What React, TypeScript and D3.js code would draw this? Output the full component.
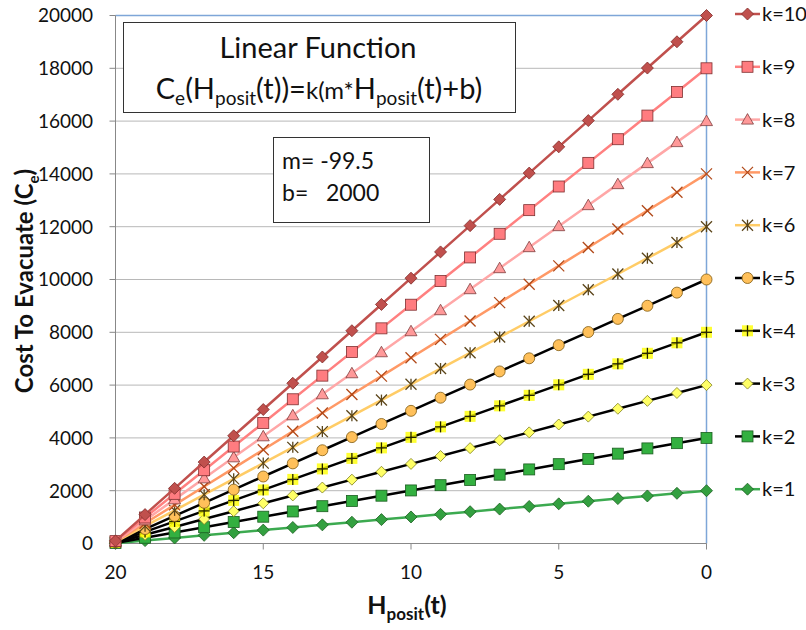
import React from "react";
import * as d3 from "d3";

const xValues = [20, 19, 18, 17, 16, 15, 14, 13, 12, 11, 10, 9, 8, 7, 6, 5, 4, 3, 2, 1, 0];
const k1 = [10, 109.5, 209, 308.5, 408, 507.5, 607, 706.5, 806, 905.5, 1005, 1104.5, 1204, 1303.5, 1403, 1502.5, 1602, 1701.5, 1801, 1900.5, 2000];
const k2 = [20, 219, 418, 617, 816, 1015, 1214, 1413, 1612, 1811, 2010, 2209, 2408, 2607, 2806, 3005, 3204, 3403, 3602, 3801, 4000];
const k3 = [30, 328.5, 627, 925.5, 1224, 1522.5, 1821, 2119.5, 2418, 2716.5, 3015, 3313.5, 3612, 3910.5, 4209, 4507.5, 4806, 5104.5, 5403, 5701.5, 6000];
const k4 = [40, 438, 836, 1234, 1632, 2030, 2428, 2826, 3224, 3622, 4020, 4418, 4816, 5214, 5612, 6010, 6408, 6806, 7204, 7602, 8000];
const k5 = [50, 547.5, 1045, 1542.5, 2040, 2537.5, 3035, 3532.5, 4030, 4527.5, 5025, 5522.5, 6020, 6517.5, 7015, 7512.5, 8010, 8507.5, 9005, 9502.5, 10000];
const k6 = [60, 657, 1254, 1851, 2448, 3045, 3642, 4239, 4836, 5433, 6030, 6627, 7224, 7821, 8418, 9015, 9612, 10209, 10806, 11403, 12000];
const k7 = [70, 766.5, 1463, 2159.5, 2856, 3552.5, 4249, 4945.5, 5642, 6338.5, 7035, 7731.5, 8428, 9124.5, 9821, 10517.5, 11214, 11910.5, 12607, 13303.5, 14000];
const k8 = [80, 876, 1672, 2468, 3264, 4060, 4856, 5652, 6448, 7244, 8040, 8836, 9632, 10428, 11224, 12020, 12816, 13612, 14408, 15204, 16000];
const k9 = [90, 985.5, 1881, 2776.5, 3672, 4567.5, 5463, 6358.5, 7254, 8149.5, 9045, 9940.5, 10836, 11731.5, 12627, 13522.5, 14418, 15313.5, 16209, 17104.5, 18000];
const k10 = [100, 1095, 2090, 3085, 4080, 5075, 6070, 7065, 8060, 9055, 10050, 11045, 12040, 13035, 14030, 15025, 16020, 17015, 18010, 19005, 20000];

const seriesNames = ["k=10", "k=9", "k=8", "k=7", "k=6", "k=5", "k=4", "k=3", "k=2", "k=1"];
const seriesValues = [k10, k9, k8, k7, k6, k5, k4, k3, k2, k1];
const yTicks = [0, 2000, 4000, 6000, 8000, 10000, 12000, 14000, 16000, 18000, 20000];
const xTicks = [20, 15, 10, 5, 0];

type Style = { line: string; marker: string; fill: string; stroke: string; size: number };
const styles: Style[] = [
  { line: "#C0504D", marker: "diamond", fill: "#C0504D", stroke: "#7F2B28", size: 6 },
  { line: "#FF8080", marker: "square", fill: "#FF7C80", stroke: "#7F3030", size: 5.5 },
  { line: "#FFA7A7", marker: "triangle", fill: "#FF9999", stroke: "#7F3F3F", size: 6 },
  { line: "#FF9966", marker: "x", fill: "none", stroke: "#B04818", size: 5.5 },
  { line: "#FFCC66", marker: "star", fill: "none", stroke: "#5A4418", size: 5.5 },
  { line: "#000000", marker: "circle", fill: "#FFC05A", stroke: "#7F5A10", size: 5.5 },
  { line: "#000000", marker: "plus", fill: "#FFFF00", stroke: "#222200", size: 5.5 },
  { line: "#000000", marker: "diamond", fill: "#FFFF66", stroke: "#7F7F20", size: 5.5 },
  { line: "#000000", marker: "square", fill: "#33B040", stroke: "#1B5E20", size: 5.5 },
  { line: "#3CAA50", marker: "diamond", fill: "#33A040", stroke: "#1B5E20", size: 6 },
];

const FONT = "Lato, 'Open Sans', sans-serif";

function Marker({ x, y, s }: { x: number; y: number; s: Style }) {
  const r = s.size;
  switch (s.marker) {
    case "diamond":
      return <path d={`M${x},${y - r}L${x + r},${y}L${x},${y + r}L${x - r},${y}Z`} fill={s.fill} stroke={s.stroke} strokeWidth={0.8} />;
    case "square":
      return <rect x={x - r} y={y - r} width={2 * r} height={2 * r} fill={s.fill} stroke={s.stroke} strokeWidth={0.8} />;
    case "triangle":
      return <path d={`M${x},${y - r}L${x + r},${y + r * 0.75}L${x - r},${y + r * 0.75}Z`} fill={s.fill} stroke={s.stroke} strokeWidth={0.8} />;
    case "circle":
      return <circle cx={x} cy={y} r={r} fill={s.fill} stroke={s.stroke} strokeWidth={0.8} />;
    case "x":
      return (
        <g stroke={s.stroke} strokeWidth={1.3}>
          <line x1={x - r} y1={y - r} x2={x + r} y2={y + r} />
          <line x1={x - r} y1={y + r} x2={x + r} y2={y - r} />
        </g>
      );
    case "star":
      return (
        <g stroke={s.stroke} strokeWidth={1.3}>
          <line x1={x - r} y1={y - r} x2={x + r} y2={y + r} />
          <line x1={x - r} y1={y + r} x2={x + r} y2={y - r} />
          <line x1={x} y1={y - r} x2={x} y2={y + r} />
        </g>
      );
    case "plus":
      return (
        <g>
          <rect x={x - r} y={y - r} width={2 * r} height={2 * r} fill={s.fill} opacity={0.8} />
          <line x1={x - r} y1={y} x2={x + r} y2={y} stroke={s.stroke} strokeWidth={1.3} />
          <line x1={x} y1={y - r} x2={x} y2={y + r} stroke={s.stroke} strokeWidth={1.3} />
        </g>
      );
    default:
      return null;
  }
}

export default function App() {
  const W = 806, H = 630;
  const left = 115.5, right = 706.5, top = 15.5, bottom = 543.5;
  const x = d3.scaleLinear().domain([20, 0]).range([left, right]);
  const y = d3.scaleLinear().domain([0, 20000]).range([bottom, top]);
  const line = d3.line<number>().x((_, i) => x(xValues[i])).y((d) => y(d));

  const legendTop = 14;
  const legendStep = 52.8;

  return (
    <svg width={W} height={H} style={{ position: "absolute", left: 0, top: 0, background: "#fff" }} fontFamily={FONT}>
      <rect width={W} height={H} fill="#fff" />
      {yTicks.map((t) => (
        <line key={"g" + t} x1={left} x2={right} y1={y(t)} y2={y(t)} stroke="#B8B8B8" strokeWidth={1} />
      ))}
      <line x1={left} x2={right} y1={top} y2={top} stroke="#7EA6D8" strokeWidth={1.5} />
      <line x1={right} x2={right} y1={top} y2={bottom} stroke="#7EA6D8" strokeWidth={1.5} />
      <line x1={left} x2={left} y1={top} y2={bottom + 6} stroke="#888" strokeWidth={1} />
      <line x1={left} x2={right} y1={bottom} y2={bottom} stroke="#888" strokeWidth={1} />
      {yTicks.map((t) => (
        <g key={"yt" + t}>
          <line x1={left - 6} x2={left} y1={y(t)} y2={y(t)} stroke="#888" />
          <text x={93} y={y(t)} dy="0.36em" textAnchor="end" fontSize={19} fill="#111">{t}</text>
        </g>
      ))}
      {xTicks.map((t) => (
        <g key={"xt" + t}>
          <line x1={x(t)} x2={x(t)} y1={bottom} y2={bottom + 6} stroke="#888" />
          <text x={x(t)} y={572} dy="0.36em" textAnchor="middle" fontSize={19} fill="#111">{t}</text>
        </g>
      ))}
      <text transform={`translate(33,281) rotate(-90)`} textAnchor="middle" fontSize={24} fontWeight="bold" fill="#111">
        Cost To Evacuate (C<tspan fontSize={15} dy={6}>e</tspan><tspan dy={-6}>)</tspan>
      </text>
      <text x={407} y={614} textAnchor="middle" fontSize={25} fontWeight="bold" fill="#111">
        H<tspan fontSize={17} dy={6}>posit</tspan><tspan dy={-6}>(t)</tspan>
      </text>
      {seriesValues.map((vals, i) => ({ vals, i })).reverse().map(({ vals, i }) => (
        <g key={"s" + i}>
          <path d={line(vals) || ""} fill="none" stroke={styles[i].line} strokeWidth={2.5} />
          {vals.map((v, j) => (
            <Marker key={j} x={x(xValues[j])} y={y(v)} s={styles[i]} />
          ))}
        </g>
      ))}
      {seriesNames.map((n, i) => {
        const ly = legendTop + i * legendStep;
        return (
          <g key={"l" + n}>
            <line x1={735} x2={760} y1={ly} y2={ly} stroke={styles[i].line} strokeWidth={2.5} />
            <Marker x={747.5} y={ly} s={styles[i]} />
            <text x={762} y={ly} dy="0.36em" fontSize={20} fill="#111">{n}</text>
          </g>
        );
      })}
      <rect x={123.5} y={22.5} width={392} height={90} fill="#fff" stroke="#333" strokeWidth={1} />
      <text x={318} y={58} textAnchor="middle" fontSize={29} fill="#111">Linear Function</text>
      <text x={319} y={99} textAnchor="middle" fontSize={29} fill="#111">
        C<tspan fontSize={19} dy={6}>e</tspan><tspan dy={-6}>(H</tspan><tspan fontSize={19} dy={6}>posit</tspan><tspan dy={-6}>(t))=</tspan><tspan fontSize={24}>k(m*</tspan><tspan>H</tspan><tspan fontSize={19} dy={6}>posit</tspan><tspan dy={-6}>(t)+b)</tspan>
      </text>
      <rect x={273.5} y={137.5} width={156} height={85} fill="#fff" stroke="#333" strokeWidth={1} />
      <text x={282} y={169} fontSize={23} fill="#111" style={{ whiteSpace: "pre" }}>{"m= -99.5"}</text>
      <text x={282} y={201} fontSize={23} fill="#111" style={{ whiteSpace: "pre" }}>{"b=   2000"}</text>
    </svg>
  );
}
